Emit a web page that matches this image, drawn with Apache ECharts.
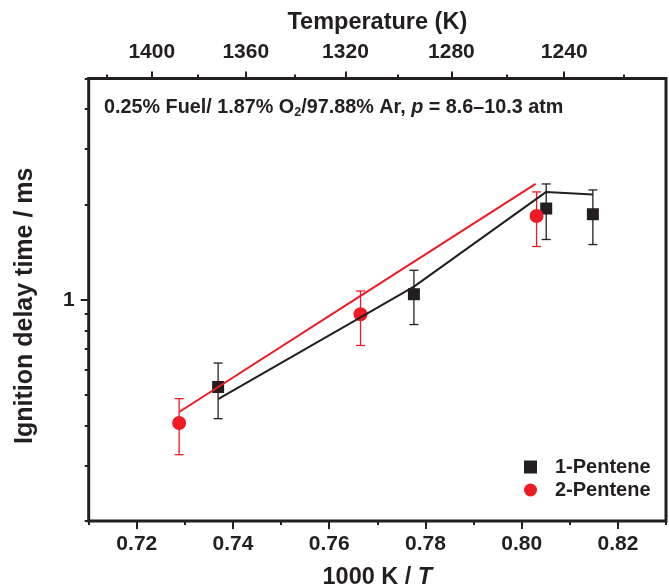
<!DOCTYPE html>
<html>
<head>
<meta charset="utf-8">
<script src="https://cdn.jsdelivr.net/npm/echarts@6/dist/echarts.min.js"></script>
<style>
  html, body { margin: 0; padding: 0; background: #fff; }
  #chart { width: 669px; height: 588px; }
</style>
</head>
<body>
<div id="chart"></div>
<script>
// tick labels
var xTicks = [0.72, 0.74, 0.76, 0.78, 0.80, 0.82];
var xMinor = [0.71, 0.73, 0.75, 0.77, 0.79, 0.81, 0.83];
var tempTicks = [1400, 1360, 1320, 1280, 1240];
var tempMinor = [1420, 1380, 1340, 1300, 1260, 1220];
var yTicks = [1];
var yMinor = [0.2, 0.3, 0.4, 0.5, 0.6, 0.7, 0.8, 0.9, 2, 3, 4, 5];

// 1-Pentene experiments
var p1X = [0.7369, 0.7776, 0.8051, 0.8148];
var p1Y = [0.530, 1.041, 1.942, 1.863];
var p1Lo = [0.421, 0.835, 1.550, 1.494];
var p1Hi = [0.631, 1.239, 2.322, 2.223];
// 2-Pentene experiments
var p2X = [0.7288, 0.7665, 0.8031];
var p2Y = [0.408, 0.900, 1.840];
var p2Lo = [0.324, 0.717, 1.473];
var p2Hi = [0.487, 1.066, 2.191];
// simulations
var sim1X = [0.7369, 0.7665, 0.7776, 0.8051, 0.8148];
var sim1Y = [0.485, 0.879, 1.100, 2.191, 2.150];
var sim2X = [0.7288, 0.7665, 0.8029];
var sim2Y = [0.442, 1.028, 2.322];

var BLK = '#231f20', RED = '#ed1c24';
var FONT = '"Liberation Sans", Arial, sans-serif';
var lg = Math.log10;

function pts(xs, ys) {
  return xs.map(function (x, i) { return [x, lg(ys[i])]; });
}
function bars(xs, lo, hi) {
  return xs.map(function (x, i) { return [x, lg(lo[i]), lg(hi[i])]; });
}
function errRender(color) {
  return function (params, api) {
    var x = api.value(0);
    var a = api.coord([x, api.value(1)]);
    var b = api.coord([x, api.value(2)]);
    var w = 4.5;
    var st = { stroke: color, lineWidth: 1.3 };
    return {
      type: 'group',
      children: [
        { type: 'line', shape: { x1: a[0], y1: a[1], x2: b[0], y2: b[1] }, style: st },
        { type: 'line', shape: { x1: a[0] - w, y1: a[1], x2: a[0] + w, y2: a[1] }, style: st },
        { type: 'line', shape: { x1: b[0] - w, y1: b[1], x2: b[0] + w, y2: b[1] }, style: st }
      ]
    };
  };
}

var yMin = lg(0.2), yMax = lg(5);
// top axis is 1000/T, drawn with its own span
var topMin = 0.7002, topMax = 0.8292;
var inv = function (t) { return 1000 / t; };

var labelStyle = { color: BLK, fontFamily: FONT, fontWeight: 'bold', fontSize: 21 };
var nameStyle = { color: BLK, fontFamily: FONT, fontWeight: 'bold', fontSize: 23.5 };
var noLine = { show: false, onZero: false };

var myChart = echarts.init(document.getElementById('chart'));
var option = {
  animation: false,
  backgroundColor: '#fff',
  grid: { left: 88.7, top: 78.5, right: 3, bottom: 67, show: true, borderColor: BLK, borderWidth: 3, outerBoundsMode: 'none', containLabel: false },
  legend: {
    data: ['1-Pentene', '2-Pentene'],
    orient: 'vertical',
    left: 519, top: 452,
    itemWidth: 13, itemHeight: 13, itemGap: 3,
    itemStyle: { opacity: 1 },
    textStyle: { color: BLK, fontFamily: FONT, fontWeight: 'bold', fontSize: 20, lineHeight: 20, padding: [0, 0, 0, 13] }
  },
  xAxis: [
    {
      type: 'value', position: 'bottom', min: 0.71, max: 0.83,
      axisLine: noLine, splitLine: { show: false },
      axisTick: { customValues: xTicks, length: 8, lineStyle: { color: BLK, width: 2 } },
      axisLabel: { customValues: xTicks, margin: 13, formatter: function (v) { return v.toFixed(2); } , ...labelStyle },
      name: '1000 K / {i|T}', nameLocation: 'middle', nameGap: 45,
      nameTextStyle: Object.assign({ rich: { i: { fontStyle: 'italic', fontWeight: 'bold', fontSize: 23.5, fontFamily: FONT, color: BLK } } }, nameStyle)
    },
    {
      type: 'value', position: 'bottom', min: 0.71, max: 0.83,
      axisLine: noLine, splitLine: { show: false }, axisLabel: { show: false },
      axisTick: { customValues: xMinor, length: 4, lineStyle: { color: BLK, width: 2 } }
    },
    {
      type: 'value', position: 'top', min: topMin, max: topMax,
      axisLine: noLine, splitLine: { show: false },
      axisTick: { customValues: tempTicks.map(inv), length: 7, lineStyle: { color: BLK, width: 2 } },
      axisLabel: { customValues: tempTicks.map(inv), margin: 16, formatter: function (v) { return String(Math.round(1000 / v)); }, ...labelStyle },
      name: 'Temperature (K)', nameLocation: 'middle', nameGap: 44, nameTextStyle: nameStyle
    },
    {
      type: 'value', position: 'top', min: topMin, max: topMax,
      axisLine: noLine, splitLine: { show: false }, axisLabel: { show: false },
      axisTick: { customValues: tempMinor.map(inv), length: 4, lineStyle: { color: BLK, width: 2 } }
    }
  ],
  yAxis: [
    {
      type: 'value', position: 'left', min: yMin, max: yMax,
      axisLine: noLine, splitLine: { show: false },
      axisTick: { customValues: yTicks.map(lg), length: 8, lineStyle: { color: BLK, width: 2 } },
      axisLabel: { customValues: yTicks.map(lg), margin: 14, formatter: function (v) { return String(Math.round(Math.pow(10, v) * 100) / 100); }, ...labelStyle },
      name: 'Ignition delay time / ms', nameLocation: 'middle', nameGap: 51,
      nameTextStyle: Object.assign({}, nameStyle, { fontSize: 25, padding: [0, 12, 0, 0] })
    },
    {
      type: 'value', position: 'left', min: yMin, max: yMax,
      axisLine: noLine, splitLine: { show: false }, axisLabel: { show: false },
      axisTick: { customValues: yMinor.map(lg), length: 4, lineStyle: { color: BLK, width: 2 } }
    }
  ],
  graphic: [{
    type: 'text', left: 104, top: 98, z: 10,
    style: {
      text: '0.25% Fuel/ 1.87% O{sub|2}/97.88% Ar, {i|p} = 8.6\u201310.3 atm',
      fill: BLK, font: 'bold 19.8px ' + FONT,
      rich: {
        sub: { fontSize: 12.5, fontWeight: 'bold', fontFamily: FONT, padding: [10, 0, 0, 0] },
        i: { fontStyle: 'italic', fontWeight: 'bold', fontSize: 19.8, fontFamily: FONT }
      }
    }
  }],
  series: [
    { type: 'custom', name: 'err1', xAxisIndex: 0, yAxisIndex: 0, renderItem: errRender(BLK), data: bars(p1X, p1Lo, p1Hi), z: 1 },
    { type: 'custom', name: 'err2', xAxisIndex: 0, yAxisIndex: 0, renderItem: errRender(RED), data: bars(p2X, p2Lo, p2Hi), z: 1 },
    { type: 'scatter', name: '1-Pentene', symbol: 'rect', symbolSize: 12, itemStyle: { color: BLK, opacity: 1 }, data: pts(p1X, p1Y), z: 2 },
    { type: 'scatter', name: '2-Pentene', symbol: 'circle', symbolSize: 14, itemStyle: { color: RED, opacity: 1 }, data: pts(p2X, p2Y), z: 2 },
    { type: 'line', name: 'sim1', showSymbol: false, lineStyle: { color: BLK, width: 2 }, data: pts(sim1X, sim1Y), z: 3 },
    { type: 'line', name: 'sim2', showSymbol: false, lineStyle: { color: RED, width: 2 }, data: pts(sim2X, sim2Y), z: 4 }
  ]
};
myChart.setOption(option);
</script>
</body>
</html>
